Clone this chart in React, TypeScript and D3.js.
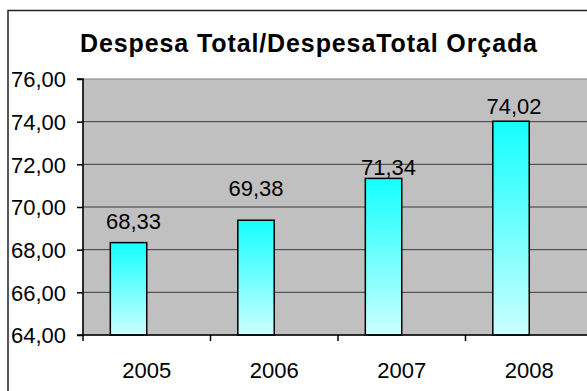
import React, { useEffect, useRef } from 'react';
import * as d3 from 'd3';

const years = ['2005', '2006', '2007', '2008'];
const ratios = [68.33, 69.38, 71.34, 74.02];
const yTicks = [64, 66, 68, 70, 72, 74, 76];
const title = 'Despesa Total/DespesaTotal Orçada';
// manual nudges of the data labels (px), as they sit in the original
const labelDx = [5, 0, 5, 3];
const labelDy = [-14, -24, -3, -7];

const W = 587;
const H = 391;

const fmt = (v: number) => v.toFixed(2).replace('.', ',');

const App: React.FC = () => {
  const ref = useRef<SVGSVGElement | null>(null);

  useEffect(() => {
    if (!ref.current) return;
    const svg = d3.select(ref.current);
    svg.selectAll('*').remove();

    const font = 'Arial, "Liberation Sans", sans-serif';
    const fs = 22;
    const plot = { left: 83, top: 79, bottom: 335, step: 127.5 };

    const x = d3
      .scaleBand<string>()
      .domain(years)
      .range([plot.left, plot.left + plot.step * years.length]);
    // clustered slot: second (empty) series leaves bar left of centre
    const slot = d3
      .scaleBand<string>()
      .domain(['a', 'b'])
      .range([0, x.bandwidth()])
      .paddingOuter(0.75);
    const y = d3.scaleLinear().domain([64, 76]).range([plot.bottom, plot.top]);

    const defs = svg.append('defs');
    const grad = defs
      .append('linearGradient')
      .attr('id', 'barGrad')
      .attr('x1', '0%')
      .attr('y1', '0%')
      .attr('x2', '0%')
      .attr('y2', '100%');
    grad.append('stop').attr('offset', '0%').attr('stop-color', '#14FFFF');
    grad.append('stop').attr('offset', '100%').attr('stop-color', '#CCFFFF');

    // chart area
    svg
      .append('rect')
      .attr('x', 8)
      .attr('y', 10.5)
      .attr('width', W + 20)
      .attr('height', H + 20)
      .attr('fill', '#fff')
      .attr('stroke', '#222')
      .attr('stroke-width', 1.5);

    svg
      .append('text')
      .attr('x', 308.5)
      .attr('y', 52)
      .attr('text-anchor', 'middle')
      .attr('font-family', font)
      .attr('font-weight', 'bold')
      .attr('font-size', 25)
      .attr('textLength', 457)
      .attr('lengthAdjust', 'spacing')
      .attr('fill', '#000')
      .text(title);

    // plot area
    svg
      .append('rect')
      .attr('x', plot.left)
      .attr('y', plot.top)
      .attr('width', x.range()[1] - plot.left)
      .attr('height', plot.bottom - plot.top)
      .attr('fill', '#C0C0C0')
      .attr('stroke', '#808080')
      .attr('stroke-width', 1);

    svg
      .append('g')
      .selectAll('line')
      .data(yTicks.slice(1, -1))
      .enter()
      .append('line')
      .attr('x1', plot.left)
      .attr('x2', x.range()[1])
      .attr('y1', (d) => y(d))
      .attr('y2', (d) => y(d))
      .attr('stroke', '#3a3a3a')
      .attr('stroke-width', 1);

    // bars
    svg
      .append('g')
      .selectAll('rect')
      .data(ratios)
      .enter()
      .append('rect')
      .attr('x', (d, i) => (x(years[i]) as number) + (slot('a') as number))
      .attr('y', (d) => y(d))
      .attr('width', slot.bandwidth())
      .attr('height', (d) => plot.bottom - y(d))
      .attr('fill', 'url(#barGrad)')
      .attr('stroke', '#000')
      .attr('stroke-width', 1.5);

    svg
      .append('g')
      .selectAll('text')
      .data(ratios)
      .enter()
      .append('text')
      .attr(
        'x',
        (d, i) => (x(years[i]) as number) + (slot('a') as number) + slot.bandwidth() / 2 + labelDx[i]
      )
      .attr('y', (d, i) => y(d) + labelDy[i])
      .attr('text-anchor', 'middle')
      .attr('font-family', font)
      .attr('font-size', fs)
      .attr('fill', '#000')
      .text((d) => fmt(d));

    // y axis
    const yAxis = svg.append('g').attr('transform', `translate(${plot.left},0)`);
    yAxis
      .call(d3.axisLeft(y).tickValues(yTicks).tickSize(6).tickPadding(11).tickFormat((d) => fmt(d as number)))
      .call((g) => g.select('.domain').attr('stroke', '#000').attr('stroke-width', 1.5).attr('d', `M-6,${plot.top}H0V${plot.bottom}`))
      .call((g) => g.selectAll('line').attr('stroke', '#000').attr('stroke-width', 1.5))
      .call((g) => g.selectAll('text').attr('font-family', font).attr('font-size', fs).attr('fill', '#000').attr('dy', '0.36em'));

    // x axis
    const xAxis = svg.append('g').attr('transform', `translate(0,${plot.bottom})`);
    xAxis
      .append('line')
      .attr('x1', plot.left - 6)
      .attr('x2', x.range()[1])
      .attr('stroke', '#000')
      .attr('stroke-width', 1.5);
    xAxis
      .selectAll('line.tick')
      .data(years)
      .enter()
      .append('line')
      .attr('class', 'tick')
      .attr('x1', (d) => x(d) as number)
      .attr('x2', (d) => x(d) as number)
      .attr('y1', 0)
      .attr('y2', 6)
      .attr('stroke', '#000')
      .attr('stroke-width', 1.5);
    xAxis
      .selectAll('text')
      .data(years)
      .enter()
      .append('text')
      .attr('x', (d) => (x(d) as number) + x.bandwidth() / 2)
      .attr('y', 43)
      .attr('text-anchor', 'middle')
      .attr('font-family', font)
      .attr('font-size', fs)
      .attr('fill', '#000')
      .text((d) => d);
  }, []);

  return (
    <svg
      ref={ref}
      width={W}
      height={H}
      style={{ position: 'absolute', left: 0, top: 0, background: '#fff' }}
    />
  );
};

export default App;
